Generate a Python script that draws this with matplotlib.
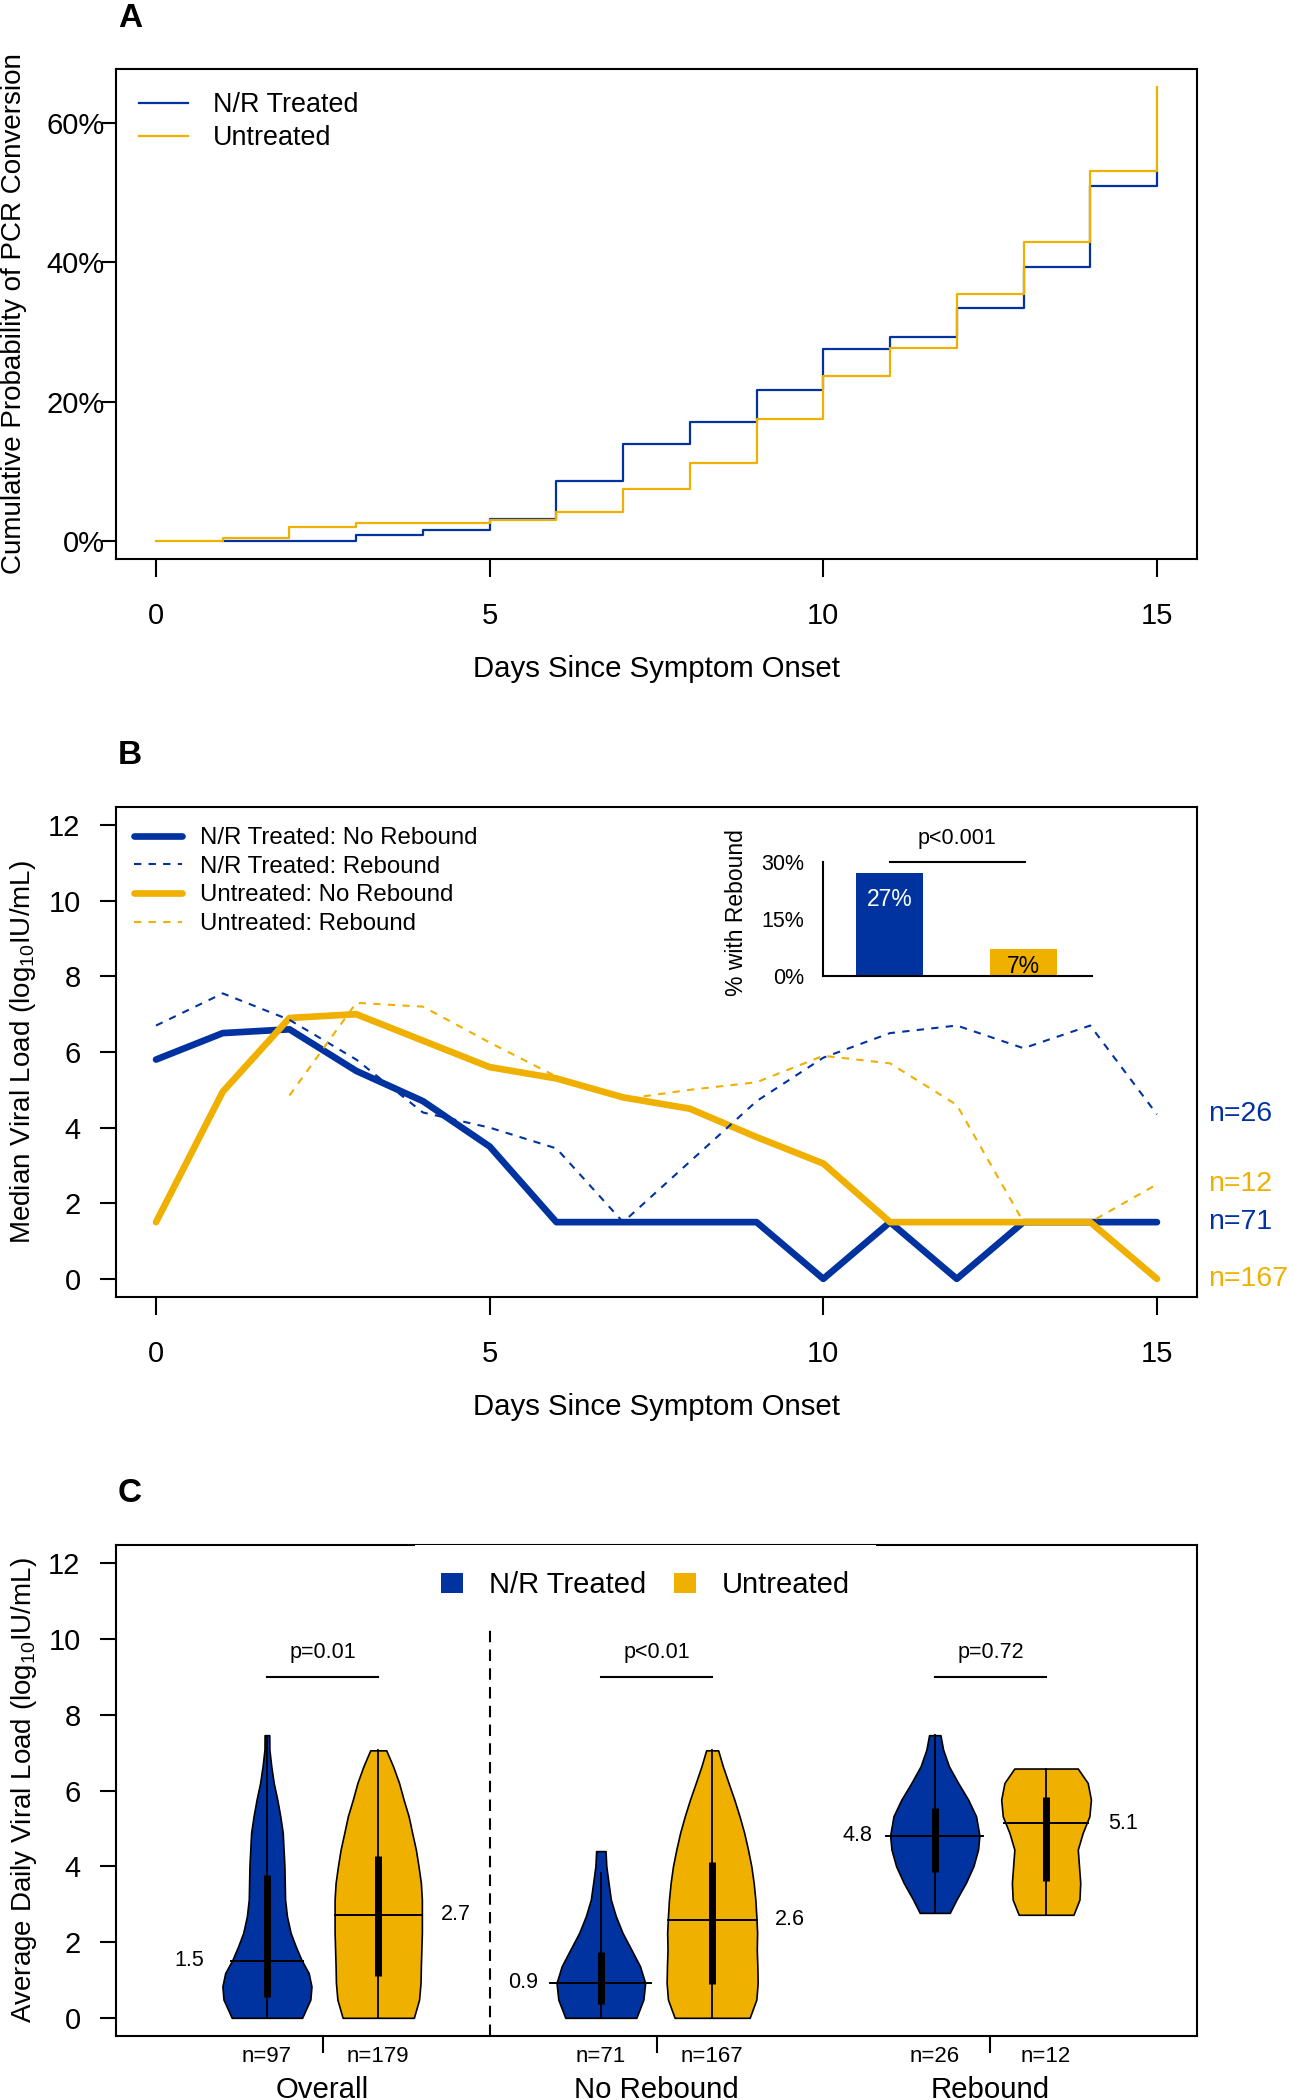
import matplotlib
matplotlib.use('Agg')
import matplotlib.pyplot as plt
from matplotlib.lines import Line2D
from matplotlib.patches import Patch
from matplotlib import transforms

plt.rcParams['font.family'] = ['Liberation Sans', 'DejaVu Sans']
plt.rcParams['mathtext.fontset'] = 'custom'
plt.rcParams['mathtext.rm'] = 'Liberation Sans'
plt.rcParams['mathtext.it'] = 'Liberation Sans:italic'
plt.rcParams['axes.linewidth'] = 1.5

BLUE = '#0033A0'
GOLD = '#F0B000'

# ---- panel A: cumulative probability of PCR conversion (%)
nr_days = [1, 3, 4, 5, 6, 7, 8, 9, 10, 11, 12, 13, 14, 15]
nr_cum = [0.0, 0.9, 1.6, 3.2, 8.6, 13.9, 17.0, 21.7, 27.5, 29.3, 33.5, 39.3, 51.0, 53.0]
un_days = [0, 1, 2, 3, 5, 6, 7, 8, 9, 10, 11, 12, 13, 14, 15]
un_cum = [0.0, 0.45, 2.0, 2.5, 3.0, 4.2, 7.5, 11.2, 17.5, 23.7, 27.7, 35.5, 42.9, 53.1, 65.2]

# ---- panel B: median viral load by day
days = list(range(16))
nr_no_rebound = [5.8, 6.5, 6.6, 5.5, 4.7, 3.5, 1.5, 1.5, 1.5, 1.5, 0.0, 1.5, 0.0, 1.5, 1.5, 1.5]
nr_rebound = [6.7, 7.55, 6.85, 5.8, 4.4, 4.0, 3.45, 1.5, 3.1, 4.7, 5.85, 6.5, 6.7, 6.1, 6.7, 4.35]
un_no_rebound = [1.5, 4.95, 6.9, 7.0, 6.3, 5.6, 5.3, 4.8, 4.5, 3.75, 3.05, 1.5, 1.5, 1.5, 1.5, 0.0]
un_rebound = [None, None, 4.85, 7.3, 7.2, 6.25, 5.35, 4.75, 5.0, 5.2, 5.9, 5.7, 4.6, 1.5, 1.5, 2.5]
end_labels = ['n=71', 'n=26', 'n=167', 'n=12']

# inset: % with rebound
rebound_pct = [27, 7]

# ---- panel C: violins of average daily viral load
positions = [1, 2, 4, 5, 7, 8]
group_names = ['Overall', 'No Rebound', 'Rebound']
group_centers = [1.5, 4.5, 7.5]
p_values = ['p=0.01', 'p<0.01', 'p=0.72']
n_labels = ['n=97', 'n=179', 'n=71', 'n=167', 'n=26', 'n=12']
medians = [1.51, 2.72, 0.92, 2.59, 4.81, 5.14]
q1 = [0.56, 1.11, 0.37, 0.90, 3.84, 3.60]
q3 = [3.78, 4.28, 1.75, 4.11, 5.54, 5.83]
whisk_lo = [0.0, 0.0, 0.0, 0.0, 2.77, 2.72]
whisk_hi = [7.45, 7.06, 3.81, 7.06, 7.46, 6.58]
med_half = [0.32, 0.39, 0.454, 0.40, 0.434, 0.38]

ov_blue_y = [0.0, 0.48, 0.83, 1.18, 1.53, 1.89, 2.24, 2.68, 3.12, 4.0, 4.88, 5.32, 5.76, 6.2, 6.64, 7.08, 7.46]
ov_blue_w = [0.316, 0.39, 0.40, 0.375, 0.31, 0.258, 0.213, 0.18, 0.163, 0.157, 0.142, 0.12, 0.093, 0.061, 0.039, 0.022, 0.021]
ov_gold_y = [0.0, 0.48, 0.92, 1.36, 2.24, 3.12, 3.56, 4.0, 4.44, 4.88, 5.32, 5.76, 6.2, 6.64, 7.06]
ov_gold_w = [0.32, 0.367, 0.38, 0.383, 0.392, 0.392, 0.383, 0.362, 0.338, 0.305, 0.273, 0.228, 0.187, 0.133, 0.072]
nr_blue_y = [0.0, 0.48, 0.92, 1.36, 1.8, 2.24, 2.68, 3.12, 3.56, 4.0, 4.4]
nr_blue_w = [0.319, 0.382, 0.398, 0.352, 0.274, 0.195, 0.135, 0.09, 0.069, 0.049, 0.042]
nr_gold_y = [0.0, 0.48, 0.92, 1.36, 1.8, 2.24, 2.68, 3.12, 3.56, 4.0, 4.44, 4.88, 5.32, 5.76, 6.2, 6.64, 7.06]
nr_gold_w = [0.337, 0.397, 0.409, 0.406, 0.401, 0.404, 0.397, 0.388, 0.373, 0.352, 0.322, 0.288, 0.246, 0.199, 0.147, 0.096, 0.054]
rb_blue_y = [2.77, 3.12, 3.56, 4.0, 4.44, 4.81, 5.32, 5.76, 6.2, 6.64, 7.08, 7.46]
rb_blue_w = [0.135, 0.195, 0.279, 0.347, 0.389, 0.401, 0.371, 0.3, 0.21, 0.127, 0.075, 0.051]
rb_gold_y = [2.72, 3.12, 3.56, 4.0, 4.44, 4.88, 5.32, 5.76, 6.2, 6.58]
rb_gold_w = [0.246, 0.3, 0.307, 0.296, 0.285, 0.329, 0.389, 0.403, 0.374, 0.285]

violin_y = [ov_blue_y, ov_gold_y, nr_blue_y, nr_gold_y, rb_blue_y, rb_gold_y]
violin_w = [ov_blue_w, ov_gold_w, nr_blue_w, nr_gold_w, rb_blue_w, rb_gold_w]
violin_col = [BLUE, GOLD, BLUE, GOLD, BLUE, GOLD]

W, H = 1290, 2100
TICK_FS = 21
LAB_FS = 21.2


def box(left, top, right, bottom):
    # pixel box -> figure fraction
    return [left / W, 1 - bottom / H, (right - left) / W, (bottom - top) / H]


fig = plt.figure(figsize=(W / 100, H / 100), dpi=100)

# ================= A =================
axA = fig.add_axes(box(116, 69, 1197, 559))
axA.step(nr_days, nr_cum, where='post', color=BLUE, lw=1.6, label='N/R Treated')
axA.step(un_days, un_cum, where='post', color=GOLD, lw=1.6, label='Untreated')
axA.set_xlim(-0.6, 15.6)
axA.set_ylim(-2.6, 67.75)
axA.set_xticks([0, 5, 10, 15])
axA.set_yticks([0, 20, 40, 60])
axA.set_yticklabels(['0%', '20%', '40%', '60%'])
axA.tick_params(axis='x', length=13, width=1.5, pad=18, labelsize=TICK_FS)
axA.tick_params(axis='y', length=10, width=1.5, pad=-2, labelsize=TICK_FS)
axA.legend(loc='upper left', bbox_to_anchor=(139 / W, 1 - 92 / H), bbox_transform=fig.transFigure,
           frameon=False, fontsize=19.4, handlelength=1.83, handletextpad=0.93,
           labelspacing=0.26, borderpad=0, borderaxespad=0)
axA.text(0.5, (559 - 669) / 490, 'Days Since Symptom Onset', transform=axA.transAxes,
         ha='center', va='center', fontsize=LAB_FS)
axA.text((14 - 116) / 1081, 0.5, 'Cumulative Probability of PCR Conversion', transform=axA.transAxes,
         rotation=90, ha='center', va='center', fontsize=20)
fig.text(118 / W, 1 - 27 / H, 'A', fontsize=24, fontweight='bold', va='baseline')

# ================= B =================
axB = fig.add_axes(box(116, 807, 1197, 1297))
un_reb_x = [d for d, v in zip(days, un_rebound) if v is not None]
un_reb_y = [v for v in un_rebound if v is not None]
axB.plot(days, nr_no_rebound, color=BLUE, lw=4.8, solid_capstyle='round', solid_joinstyle='round')
axB.plot(days, un_no_rebound, color=GOLD, lw=4.8, solid_capstyle='round', solid_joinstyle='round')
axB.plot(days, nr_rebound, color=BLUE, lw=1.5, dashes=(3.5, 3.5))
axB.plot(un_reb_x, un_reb_y, color=GOLD, lw=1.5, dashes=(3.5, 3.5))
axB.set_xlim(-0.6, 15.6)
axB.set_ylim(-0.48, 12.48)
axB.set_xticks([0, 5, 10, 15])
axB.set_yticks(range(0, 13, 2))
axB.tick_params(axis='x', length=13, width=1.5, pad=18, labelsize=TICK_FS)
axB.tick_params(axis='y', length=11.5, width=1.5, pad=14, labelsize=TICK_FS)

legB = [Line2D([], [], color=BLUE, lw=4.8, solid_capstyle='round'),
        Line2D([], [], color=BLUE, lw=1.5, dashes=(3.5, 3.5)),
        Line2D([], [], color=GOLD, lw=4.8, solid_capstyle='round'),
        Line2D([], [], color=GOLD, lw=1.5, dashes=(3.5, 3.5))]
axB.legend(legB, ['N/R Treated: No Rebound', 'N/R Treated: Rebound',
                  'Untreated: No Rebound', 'Untreated: Rebound'],
           loc='upper left', bbox_to_anchor=(134 / W, 1 - 827 / H), bbox_transform=fig.transFigure,
           frameon=False, fontsize=17.25, handlelength=2.0, handletextpad=0.75,
           labelspacing=0.28, borderpad=0, borderaxespad=0)

ends = [nr_no_rebound[-1], nr_rebound[-1], un_no_rebound[-1], un_reb_y[-1]]
end_cols = [BLUE, BLUE, GOLD, GOLD]
for lab, yv, c in zip(end_labels, ends, end_cols):
    axB.text(15.76, yv, lab, color=c, ha='left', va='center', fontsize=20.5, clip_on=False)

axB.text(0.5, (1297 - 1407) / 490, 'Days Since Symptom Onset', transform=axB.transAxes,
         ha='center', va='center', fontsize=LAB_FS)
axB.text((23.5 - 116) / 1081, 0.5, r'Median Viral Load (log$_{10}$IU/mL)', transform=axB.transAxes,
         rotation=90, ha='center', va='center', fontsize=20)
fig.text(118 / W, 1 - 764 / H, 'B', fontsize=24, fontweight='bold', va='baseline')

# inset bar chart
axI = fig.add_axes(box(823, 862, 1092, 976))
axI.bar([0, 1], rebound_pct, width=0.5, color=[BLUE, GOLD])
axI.set_xlim(-0.5, 1.51)
axI.set_ylim(0, 30)
axI.spines['top'].set_visible(False)
axI.spines['right'].set_visible(False)
axI.set_xticks([])
axI.set_yticks([0, 15, 30])
axI.set_yticklabels(['0%', '15%', '30%'])
axI.tick_params(axis='y', length=0, pad=13.5, labelsize=15.5)
axI.text(0, 20.2, f'{rebound_pct[0]}%', color='white', ha='center', va='center', fontsize=16.5)
axI.text(1, 2.6, f'{rebound_pct[1]}%', color='black', ha='center', va='center', fontsize=16.5)
axI.plot([0, 1.01], [30, 30], color='black', lw=1.5, clip_on=False)
axI.text(0.5, 36.1, 'p<0.001', ha='center', va='center', fontsize=15.5, clip_on=False)
fig.text(736.7 / W, 1 - 912.5 / H, '% with Rebound', rotation=90, ha='center', va='center', fontsize=16.5)

# ================= C =================
axC = fig.add_axes(box(116, 1545, 1197, 2036))
for i, pos in enumerate(positions):
    ys = violin_y[i]
    ws = violin_w[i]
    axC.fill_betweenx(ys, [pos - w for w in ws], [pos + w for w in ws],
                      facecolor=violin_col[i], edgecolor='black', lw=1.2, zorder=2)
    axC.plot([pos, pos], [whisk_lo[i], whisk_hi[i]], color='black', lw=1.3, zorder=3)
    axC.plot([pos, pos], [q1[i], q3[i]], color='black', lw=5, solid_capstyle='butt', zorder=4)
    axC.plot([pos - med_half[i], pos + med_half[i]], [medians[i], medians[i]],
             color='black', lw=1.4, zorder=4)
    if i % 2 == 0:
        axC.text(pos - 0.56, medians[i], f'{medians[i]:.1f}', ha='right', va='center', fontsize=15.5)
    else:
        axC.text(pos + 0.56, medians[i], f'{medians[i]:.1f}', ha='left', va='center', fontsize=15.5)

for g, pv in enumerate(p_values):
    a, b = positions[2 * g], positions[2 * g + 1]
    axC.plot([a, b], [9, 9], color='black', lw=1.5)
    axC.text((a + b) / 2, 9.65, pv, ha='center', va='center', fontsize=15.5)

axC.plot([3, 3], [-0.48, 10.52], color='black', lw=1.5, dashes=(5.5, 3.5))

axC.set_xlim(-0.356, 9.356)
axC.set_ylim(-0.48, 12.48)
axC.set_yticks(range(0, 13, 2))
axC.set_xticks(group_centers)
axC.set_xticklabels([])
axC.tick_params(axis='x', length=12, width=1.5)
axC.tick_params(axis='y', length=11.5, width=1.5, pad=14, labelsize=TICK_FS)

blend = transforms.blended_transform_factory(axC.transData, axC.transAxes)
for pos, lab in zip(positions, n_labels):
    axC.text(pos, (2036 - 2056.7) / 491, lab, transform=blend, ha='center', va='center', fontsize=16)
for gc, name in zip(group_centers, group_names):
    axC.text(gc, (2036 - 2090) / 491, name, transform=blend, ha='center', va='center', fontsize=LAB_FS)

axC.legend([Patch(facecolor=BLUE), Patch(facecolor=GOLD)], ['N/R Treated', 'Untreated'],
           ncol=2, loc='upper left', bbox_to_anchor=(415 / W, 1 - 1545 / H), bbox_transform=fig.transFigure,
           fontsize=21, handlelength=0.73, handleheight=0.68, handletextpad=0.9, columnspacing=0.97,
           borderpad=0.9, borderaxespad=0, frameon=True, fancybox=False, edgecolor='none',
           facecolor='white', framealpha=1)

axC.text((24.5 - 116) / 1081, 0.5, r'Average Daily Viral Load (log$_{10}$IU/mL)', transform=axC.transAxes,
         rotation=90, ha='center', va='center', fontsize=20)
fig.text(118 / W, 1 - 1502 / H, 'C', fontsize=24, fontweight='bold', va='baseline')

fig.savefig('out.png', dpi=100)
